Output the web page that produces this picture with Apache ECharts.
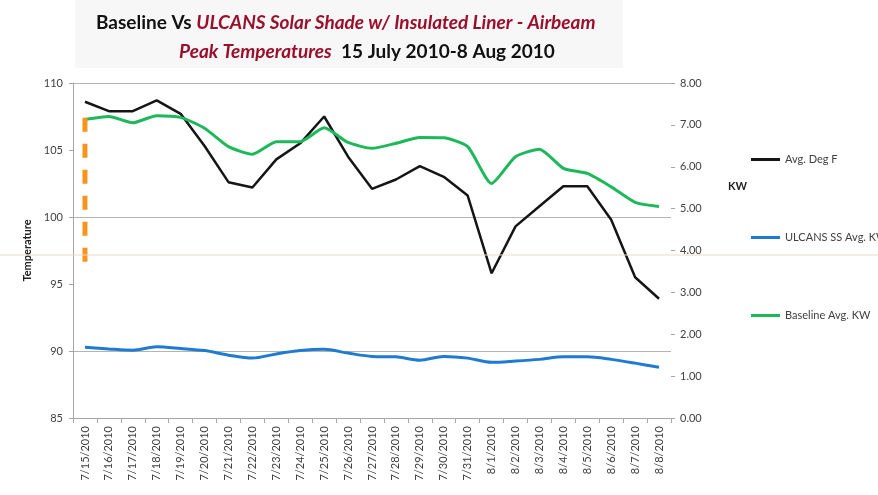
<!DOCTYPE html>
<html>
<head>
<meta charset="utf-8">
<script src="https://cdn.jsdelivr.net/npm/echarts@6/dist/echarts.min.js"></script>
<style>html,body{margin:0;padding:0;background:#fff}#c{width:878px;height:495px}</style>
</head>
<body>
<div id="c"></div>
<script>
const categories = ['7/15/2010','7/16/2010','7/17/2010','7/18/2010','7/19/2010','7/20/2010','7/21/2010','7/22/2010','7/23/2010','7/24/2010','7/25/2010','7/26/2010','7/27/2010','7/28/2010','7/29/2010','7/30/2010','7/31/2010','8/1/2010','8/2/2010','8/3/2010','8/4/2010','8/5/2010','8/6/2010','8/7/2010','8/8/2010'];
const avgDegF = [108.6,107.9,107.9,108.7,107.7,105.3,102.6,102.2,104.3,105.5,107.5,104.5,102.1,102.8,103.8,103.0,101.6,95.8,99.3,100.8,102.3,102.3,99.8,95.5,93.9];
const ulcansKW = [1.69,1.65,1.62,1.70,1.66,1.61,1.50,1.43,1.53,1.61,1.64,1.55,1.47,1.46,1.38,1.47,1.43,1.33,1.36,1.40,1.46,1.46,1.40,1.31,1.21];
const baselineKW = [7.13,7.20,7.05,7.22,7.18,6.92,6.48,6.30,6.60,6.60,6.93,6.58,6.44,6.56,6.70,6.69,6.48,5.60,6.24,6.42,5.96,5.84,5.52,5.15,5.05];
const markerTemps = [107.4, 96.3];
const seriesNames = ['Avg. Deg F','ULCANS SS Avg. KW','Baseline Avg. KW'];

const chart = echarts.init(document.getElementById('c'));
const font = 'Lato, "Open Sans", sans-serif';
chart.setOption({
  animation: false,
  backgroundColor: '#fff',
  title: [
    { left: 91, top: 8, text: '{a|Baseline Vs }{b|ULCANS Solar Shade w/ Insulated Liner - Airbeam}',
      textStyle: { rich: {
        a: { fontFamily: font, fontWeight: 'bold', fontSize: 19, color: '#111' },
        b: { fontFamily: font, fontWeight: 'bold', fontStyle: 'italic', fontSize: 19, color: '#9a0f2c' } } } },
    { left: 174, top: 37, text: '{b|Peak Temperatures}{a|  15 July 2010-8 Aug 2010}',
      textStyle: { rich: {
        a: { fontFamily: font, fontWeight: 'bold', fontSize: 19, color: '#111' },
        b: { fontFamily: font, fontWeight: 'bold', fontStyle: 'italic', fontSize: 19, color: '#9a0f2c' } } } }
  ],
  graphic: [
    { type: 'rect', z: -10, shape: { x: 75, y: 0, width: 548, height: 68 }, style: { fill: '#f7f7f7' } },
    { type: 'line', z: 100, shape: { x1: 0, y1: 255, x2: 878, y2: 255 }, style: { stroke: '#e4dcc6', lineWidth: 1 } },
    { type: 'text', left: 728, top: 181, style: { text: 'KW', font: 'bold 11px ' + font, fill: '#222' } }
  ],
  legend: {
    data: seriesNames,
    orient: 'vertical', left: 746, top: 149, itemGap: 67,
    itemWidth: 29, itemHeight: 3,
    icon: 'rect',
    textStyle: { fontFamily: font, fontSize: 11, color: '#404040' }
  },
  grid: { left: 73, right: 207, top: 83, bottom: 77 },
  xAxis: {
    type: 'category', data: categories, boundaryGap: true,
    axisLine: { lineStyle: { color: '#a6a6a6' } },
    axisTick: { show: true, lineStyle: { color: '#a6a6a6' }, length: 5 },
    axisLabel: { rotate: 90, fontFamily: font, fontSize: 11, color: '#404040', margin: 8, interval: 0 }
  },
  yAxis: [
    { type: 'value', min: 85, max: 110, interval: 5, name: 'Temperature', nameLocation: 'middle', nameGap: 40,
      nameTextStyle: { fontFamily: font, fontSize: 11, fontWeight: 'bold', color: '#222' },
      axisLine: { show: true, lineStyle: { color: '#a6a6a6' } },
      axisTick: { show: true, length: 4, lineStyle: { color: '#a6a6a6' } },
      axisLabel: { fontFamily: font, fontSize: 11, color: '#404040', margin: 10 },
      splitLine: { show: true, lineStyle: { color: ['transparent', '#b4b4b4'], width: 1 } } },
    { type: 'value', min: 0, max: 8, interval: 1, position: 'right',
      axisLine: { show: false },
      axisTick: { show: true, length: 4, lineStyle: { color: '#a6a6a6' } },
      axisLabel: { fontFamily: font, fontSize: 11, color: '#404040', margin: 9, formatter: v => v.toFixed(2) },
      splitLine: { show: false } }
  ],
  series: [
    { name: seriesNames[0], type: 'line', yAxisIndex: 0, data: avgDegF, showSymbol: false, symbol: 'none',
      lineStyle: { color: '#151515', width: 2.5 }, itemStyle: { color: '#151515' } },
    { name: seriesNames[1], type: 'line', yAxisIndex: 1, data: ulcansKW, showSymbol: false, symbol: 'none', smooth: 0.3,
      lineStyle: { color: '#1f7ad2', width: 3 }, itemStyle: { color: '#1f7ad2' } },
    { name: seriesNames[2], type: 'line', yAxisIndex: 1, data: baselineKW, showSymbol: false, symbol: 'none', smooth: 0.2,
      lineStyle: { color: '#1cb85a', width: 3 }, itemStyle: { color: '#1cb85a' } },
    { name: 'marker', type: 'line', yAxisIndex: 0, data: markerTemps.map(v => [0, v]), showSymbol: false, symbol: 'none',
      lineStyle: { color: '#f7941d', width: 5, type: [14, 12] }, silent: true }
  ]
});
</script>
</body>
</html>
